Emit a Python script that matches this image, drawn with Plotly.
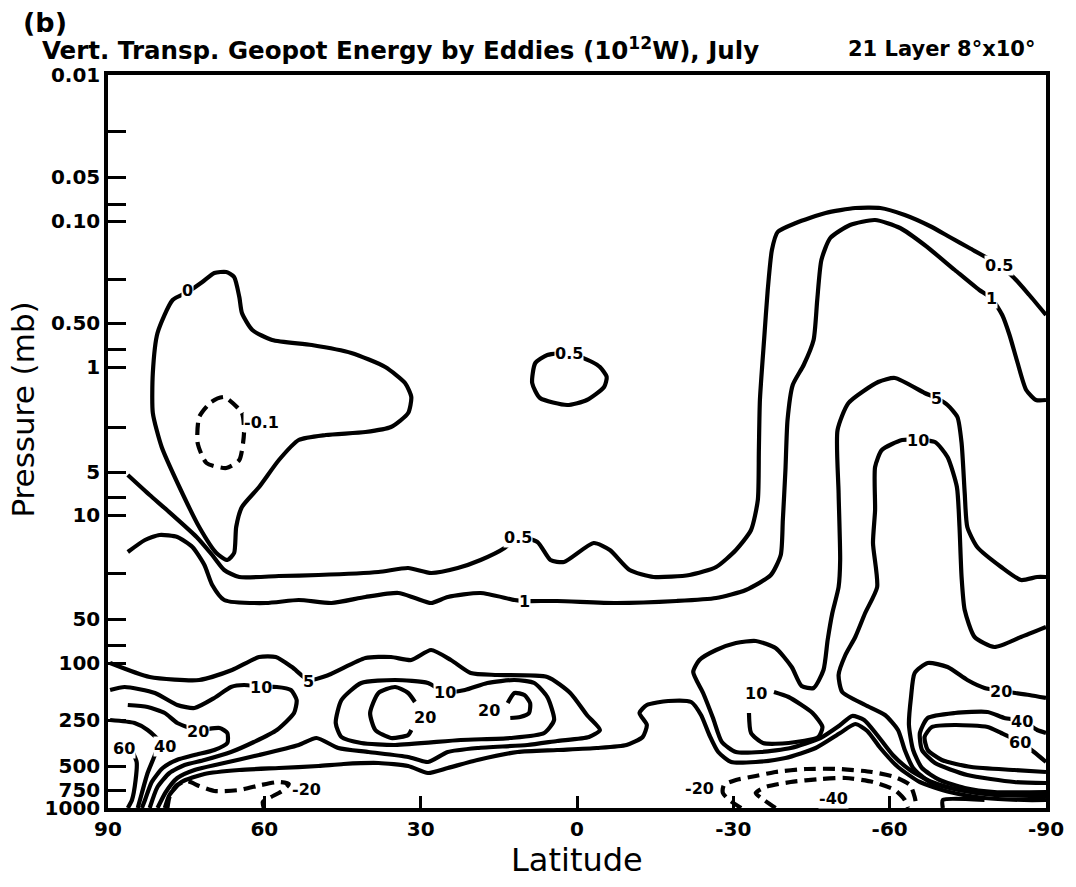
import plotly.graph_objects as go

# ---------------- axes ----------------
# vertical coordinate: position on the model-level pressure axis
# (0 = 0.01 mb at the top, 733 = 1000 mb at the bottom)
PRESSURE_TICK_POS = [0, 102, 146, 248, 292, 397, 440, 544, 588, 645, 691, 715, 733]
PRESSURE_TICK_TEXT = ["0.01", "0.05", "0.10", "0.50", "1", "5", "10", "50", "100", "250",
                      "500", "750", "1000"]
LEVEL_EDGE_POS = [56, 129, 204, 274, 352, 422, 498, 570]   # unlabeled level ticks
LAT_TICKS = [90, 60, 30, 0, -30, -60, -90]
LAT_TICK_TEXT = ["90", "60", "30", "0", "-30", "-60", "-90"]

# ---------------- contour paths (latitude, level position) ----------------
C0_LAT = [77.6, 80.5, 81.4, 81.4, 79.7, 76.3, 72.5, 69.2, 67.1, 65.8, 65.4, 64.3, 61.0, 57.2,
          53.4, 48.2, 40.6, 35.7, 32.4, 31.8, 33.0, 36.8, 43.3, 50.9, 58.5, 62.3, 64.3, 64.8,
          65.8, 67.3, 69.6, 71.9, 74.7, 77.6]
C0_Z = [225, 258, 298, 338, 372, 412, 452, 478, 485, 478, 452, 432, 412, 385, 365, 360, 357,
        352, 338, 322, 308, 292, 278, 270, 265, 255, 238, 222, 202, 197, 198, 207, 217, 225]

CM01_LAT = [67.7, 64.3, 63.9, 64.8, 67.3, 71.1, 72.8, 72.5, 70.2, 67.7]
CM01_Z = [322, 338, 358, 385, 393, 388, 368, 342, 327, 322]

C05_LAT = [86.2, 82.0, 78.7, 73.0, 70.0, 67.7, 64.8, 57.2, 49.6, 38.1, 32.4, 28.0, 22.9, 18.5,
           13.9, 11.4, 7.6, 5.1, 2.5, -3.2, -6.3, -10.1, -14.7, -21.6, -26.7, -30.5, -33.4,
           -34.7, -34.9, -35.1, -35.9, -36.6, -37.4, -38.5, -42.0, -47.7, -53.4, -58.2, -62.9,
           -67.7, -71.5, -75.3, -81.0, -83.9, -86.8, -90.0]
C05_Z = [400, 420, 435, 462, 480, 495, 502, 501, 500, 497, 493, 498, 493, 485, 473, 462, 467,
         485, 487, 468, 475, 495, 502, 500, 492, 475, 455, 425, 375, 325, 265, 215, 175, 157,
         148, 138, 133, 133, 140, 151, 162, 173, 190, 203, 220, 240]

C05S_LAT = [5.7, 8.0, 8.6, 7.1, 1.9, -1.9, -5.2, -5.7, -4.4, -2.9, 1.5, 5.7]
C05S_Z = [280, 288, 308, 323, 330, 325, 312, 302, 292, 287, 278, 280]

C1_LAT = [86.2, 82.9, 80.1, 76.7, 73.8, 71.5, 70.0, 67.7, 59.7, 53.4, 47.1, 40.6, 34.3, 31.1,
          28.0, 24.8, 18.5, 12.0, 10.1, 3.8, -7.6, -19.1, -26.7, -32.4, -37.2, -39.1, -39.5,
          -40.0, -40.4, -41.4, -43.5, -45.4, -46.1, -46.9, -48.6, -52.4, -57.2, -62.0, -66.7,
          -72.5, -77.2, -79.5, -81.6, -83.0, -84.5, -86.2, -88.1, -90.0]
C1_Z = [477, 465, 460, 462, 472, 490, 510, 525, 528, 525, 528, 522, 518, 523, 528, 522, 518,
        525, 526, 526, 528, 526, 523, 515, 500, 480, 445, 395, 345, 310, 290, 265, 225, 185,
        163, 150, 145, 153, 170, 195, 215, 223, 240, 260, 287, 315, 325, 325]

C5N_LAT = [89.6, 82.0, 72.5, 66.2, 61.0, 57.8, 54.7, 51.5, 47.7, 40.6, 35.7, 31.8, 28.0, 24.2,
           20.4, 15.3, 5.7, 1.3, -1.9, -4.4, -2.3, 3.8, 9.5, 19.1, 24.8, 28.6, 32.4, 40.0,
           45.8, 50.0, 53.4, 61.0, 68.6, 73.4, 76.7, 78.9, 80.5]
C5N_Z = [588, 602, 605, 595, 582, 582, 592, 605, 600, 583, 582, 585, 575, 585, 598, 600, 602,
         618, 640, 655, 662, 666, 670, 673, 677, 687, 682, 677, 673, 663, 670, 680, 689, 695,
         703, 717, 733]

C5S_LAT = [-90.0, -88.3, -85.2, -81.4, -76.8, -74.9, -74.4, -73.8, -73.0, -71.1, -69.0, -66.7,
           -61.0, -57.8, -52.1, -50.0, -50.2, -50.5, -50.2, -49.0, -48.1, -47.3, -45.4, -43.1,
           -41.2, -38.1, -34.3, -30.5, -26.7, -23.5, -22.3, -24.2, -26.1, -27.8, -30.5, -35.3,
           -41.0, -46.7, -50.5, -52.8, -55.1, -57.6, -60.6, -63.9, -68.1, -73.4, -80.1, -90.0]
C5S_Z = [502, 502, 505, 492, 472, 452, 418, 368, 342, 330, 323, 318, 303, 307, 328, 355, 418,
         485, 512, 538, 565, 595, 613, 611, 592, 573, 566, 568, 575, 585, 597, 618, 643, 667,
         677, 677, 673, 663, 650, 641, 645, 660, 680, 695, 707, 715, 720, 721]

C10N_LAT = [89.6, 86.8, 81.0, 76.7, 73.4, 69.6, 66.4, 63.9, 60.6, 57.6, 54.9, 53.8, 54.3, 57.6,
            62.0, 66.4, 71.5, 75.3, 78.2, 80.5, 82.0]
C10N_Z = [615, 612, 618, 630, 633, 623, 612, 610, 612, 612, 615, 625, 638, 655, 667, 677, 685,
          690, 698, 712, 733]

C10E_LAT = [25.4, 28.6, 34.9, 41.4, 45.2, 46.3, 45.2, 41.4, 34.9, 22.3, 12.8, 6.3, 4.4, 5.7,
            8.2, 12.0, 17.2, 21.5, 25.4]
C10E_Z = [617, 608, 605, 608, 625, 648, 662, 668, 670, 665, 663, 658, 645, 622, 608, 605, 608,
          615, 617]

C10S_LAT = [-37.8, -40.6, -45.2, -47.1, -46.3, -40.6, -35.7, -33.4, -33.0]
C10S_Z = [617, 622, 638, 652, 662, 668, 668, 658, 638]

C10T_LAT = [-90.0, -85.2, -80.1, -76.3, -74.4, -73.8, -73.4, -72.9, -71.1, -68.7, -65.4, -62.4,
            -58.5, -57.2, -57.2, -56.8, -57.6, -55.3, -53.4, -51.5, -50.2, -50.9, -55.3, -59.1,
            -61.6, -62.9, -64.5, -67.7, -73.4, -80.1, -90.0]
C10T_Z = [552, 562, 572, 562, 535, 502, 452, 412, 382, 367, 365, 365, 375, 392, 435, 468, 512,
          538, 562, 580, 600, 617, 630, 640, 655, 675, 693, 707, 715, 719, 718]

C20N_LAT = [86.2, 82.4, 79.1, 76.7, 72.8, 68.6, 67.1, 67.1, 69.6, 73.4, 76.8, 79.5, 81.6, 82.9,
            83.5]
C20N_Z = [630, 632, 638, 648, 655, 653, 658, 668, 675, 680, 685, 693, 707, 725, 733]

C20A_LAT = [31.1, 32.4, 34.9, 38.1, 39.7, 38.7, 35.7, 32.4, 31.8]
C20A_Z = [627, 618, 612, 618, 638, 655, 663, 660, 655]

C20B_LAT = [13.3, 12.0, 10.1, 9.0, 9.2, 10.9, 12.8]
C20B_Z = [628, 618, 620, 628, 638, 642, 643]

C20S_LAT = [-90.0, -86.8, -81.4, -78.2, -74.9, -71.1, -67.3, -64.8, -64.1, -63.7, -64.5, -66.2,
            -69.6, -74.4, -80.1, -90.0]
C20S_Z = [623, 620, 616, 613, 605, 592, 588, 598, 622, 650, 675, 693, 705, 713, 717, 717]

C40N_LAT = [89.6, 84.9, 82.4, 80.1, 81.0, 82.4, 83.5, 84.3]
C40N_Z = [645, 648, 655, 667, 680, 698, 718, 733]

C40S_LAT = [-90.0, -88.3, -85.4, -82.0, -78.8, -72.5, -67.3, -65.8, -66.2, -68.7, -74.9, -83.9,
            -90.0]
C40S_Z = [658, 655, 646, 643, 637, 638, 643, 658, 675, 688, 700, 707, 708]

C60N_LAT = [85.2, 84.5, 84.7, 85.4, 86.2]
C60N_Z = [678, 687, 705, 725, 733]

C60S_LAT = [-90.0, -87.7, -85.0, -81.4, -78.8, -72.5, -68.1, -66.7, -67.3, -70.0, -75.7, -83.9,
            -90.0]
C60S_Z = [687, 677, 667, 658, 652, 650, 652, 662, 675, 685, 692, 695, 697]

CLOW_LAT = [79.1, 78.2, 75.9, 71.5, 64.8, 57.2, 49.6, 44.8, 38.1, 32.4, 28.6, 24.8, 19.1, 11.4,
            3.8, -3.8, -9.5, -12.6, -13.4, -12.0, -13.4, -17.5, -21.9, -23.8, -25.4, -27.1,
            -29.6, -34.3, -40.0, -45.8, -50.5, -53.4, -55.7, -58.2, -61.6, -65.8, -71.5, -78.2,
            -85.8, -90.0]
CLOW_Z = [733, 720, 707, 699, 695, 693, 691, 689, 688, 691, 698, 693, 685, 677, 675, 673, 670,
          662, 650, 638, 630, 626, 627, 640, 660, 677, 687, 687, 683, 673, 658, 649, 656, 673,
          692, 707, 717, 723, 725, 725]

CBOX_LAT = [-70.2, -70.2, -78.2]
CBOX_Z = [733, 725, 725]

CM20N_LAT = [78.6, 78.2, 77.0, 74.9, 72.5, 69.6, 64.8, 60.6, 57.2, 55.3, 56.6, 58.7, 60.3, 60.1]
CM20N_Z = [733, 722, 711, 706, 711, 716, 715, 710, 707, 709, 716, 722, 727, 733]

CM20S_LAT = [-31.5, -29.2, -28.0, -28.2, -30.5, -34.3, -38.1, -43.9, -50.2, -56.6, -61.0, -63.9,
             -64.8, -65.2]
CM20S_Z = [733, 725, 718, 710, 705, 701, 697, 694, 694, 697, 702, 710, 722, 733]

CM40S_LAT = [-38.1, -35.9, -34.3, -36.2, -41.0, -46.7, -51.5, -56.8, -61.0, -62.9, -63.5]
CM40S_Z = [733, 725, 718, 712, 707, 704, 703, 707, 715, 725, 733]

# (lat, level, dashed)
CONTOURS = [
    (C0_LAT, C0_Z, False), (CM01_LAT, CM01_Z, True), (C05_LAT, C05_Z, False),
    (C05S_LAT, C05S_Z, False), (C1_LAT, C1_Z, False), (C5N_LAT, C5N_Z, False),
    (C5S_LAT, C5S_Z, False), (C10N_LAT, C10N_Z, False), (C10E_LAT, C10E_Z, False),
    (C10S_LAT, C10S_Z, False), (C10T_LAT, C10T_Z, False), (C20N_LAT, C20N_Z, False),
    (C20A_LAT, C20A_Z, False), (C20B_LAT, C20B_Z, False), (C20S_LAT, C20S_Z, False),
    (C40N_LAT, C40N_Z, False), (C40S_LAT, C40S_Z, False), (C60N_LAT, C60N_Z, False),
    (C60S_LAT, C60S_Z, False), (CLOW_LAT, CLOW_Z, False), (CBOX_LAT, CBOX_Z, False),
    (CM20N_LAT, CM20N_Z, True), (CM20S_LAT, CM20S_Z, True), (CM40S_LAT, CM40S_Z, True),
]

LABEL_TEXT = ["0", "-0.1", "0.5", "1", "0.5", "0.5", "1", "5", "10", "10", "5", "20", "40",
              "60", "-20", "10", "20", "20", "10", "20", "40", "60", "-20", "-40"]
LABEL_LAT = [74.7, 60.5, 11.4, 10.1, 1.5, -81.0, -79.5, -69.0, -65.4, 60.6, 51.5, 72.8, 79.1,
             86.9, 52.0, 25.4, 29.2, 16.8, -34.3, -81.4, -85.4, -85.0, -23.5, -49.2]
LABEL_Z = [215, 347, 462, 526, 278, 190, 223, 323, 365, 612, 606, 656, 671, 673, 714, 617,
           642, 635, 618, 616, 646, 667, 713, 723]

FONT = "DejaVu Sans"

fig = go.Figure()
for lat, lev, dashed in CONTOURS:
    fig.add_trace(go.Scatter(
        x=lat, y=lev, mode="lines", hoverinfo="skip", showlegend=False,
        line=dict(color="black", width=4.2, shape="spline", smoothing=0.6,
                  dash="12px,7px" if dashed else "solid")))

annotations = []
for t, la, lv in zip(LABEL_TEXT, LABEL_LAT, LABEL_Z):
    annotations.append(dict(x=la, y=lv, xref="x", yref="y", text=t, showarrow=False,
                            font=dict(family=FONT, size=16, color="black", weight="bold"),
                            bgcolor="white", borderpad=0))

# titles (paper coordinates, relative to the plot frame)
annotations += [
    dict(x=-0.093, y=1.072, xref="paper", yref="paper", text="(b)", showarrow=False,
         xanchor="left", yanchor="middle",
         font=dict(family=FONT, size=27, color="black", weight="bold")),
    dict(x=-0.072, y=1.035, xref="paper", yref="paper",
         text="Vert. Transp. Geopot Energy by Eddies (10<sup>12</sup>W), July", showarrow=False,
         xanchor="left", yanchor="middle",
         font=dict(family=FONT, size=24.5, color="black", weight="bold")),
    dict(x=0.99, y=1.035, xref="paper", yref="paper", text="21 Layer 8°x10°", showarrow=False,
         xanchor="right", yanchor="middle",
         font=dict(family=FONT, size=21, color="black", weight="bold")),
    dict(x=0.5, y=-0.071, xref="paper", yref="paper", text="Latitude", showarrow=False,
         xanchor="center", yanchor="middle", font=dict(family=FONT, size=32, color="black")),
    dict(x=-0.091, y=0.543, xref="paper", yref="paper", text="Pressure (mb)", showarrow=False,
         textangle=-90, xanchor="center", yanchor="middle",
         font=dict(family=FONT, size=31, color="black")),
]

TICKFONT = dict(family=FONT, size=20, color="black", weight="bold")

fig.update_layout(
    width=1076, height=887,
    margin=dict(l=108, r=24, t=75, b=79),
    paper_bgcolor="white", plot_bgcolor="white",
    annotations=annotations,
    xaxis=dict(range=[90, -90], tickvals=LAT_TICKS, ticktext=LAT_TICK_TEXT,
               ticks="inside", ticklen=12, tickwidth=2.5, tickcolor="black",
               showline=True, linewidth=3.5, linecolor="black", mirror=True,
               showgrid=False, zeroline=False, ticklabelstandoff=0, tickfont=TICKFONT),
    yaxis=dict(range=[733, 0], tickvals=PRESSURE_TICK_POS, ticktext=PRESSURE_TICK_TEXT,
               ticks="inside", ticklen=18, tickwidth=3, tickcolor="black",
               minor=dict(tickmode="array", tickvals=LEVEL_EDGE_POS, ticks="inside",
                          ticklen=18, tickwidth=3, tickcolor="black", showgrid=False),
               showline=True, linewidth=3.5, linecolor="black", mirror=True,
               showgrid=False, zeroline=False, ticklabelstandoff=0, tickfont=TICKFONT),
)

# remove the browser's default page margin so the figure fills the window exactly
fig.write_html("out.html", config={"displayModeBar": False},
               post_script="document.body.style.margin='0px';")
